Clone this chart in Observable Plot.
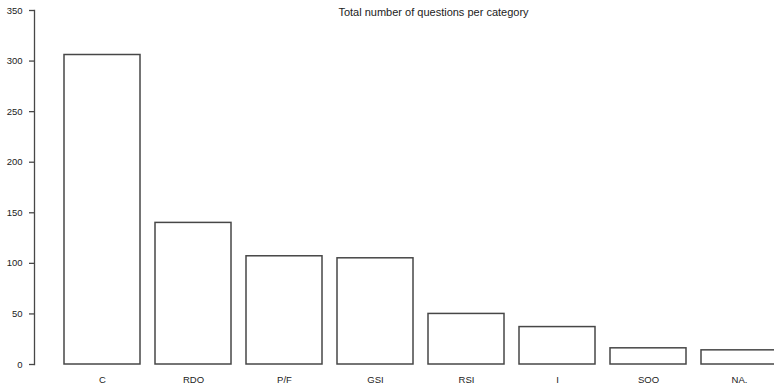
<!DOCTYPE html>
<html>
<head>
<meta charset="utf-8">
<script src="https://cdn.jsdelivr.net/npm/d3@7"></script>
<script src="https://cdn.jsdelivr.net/npm/@observablehq/plot@0.6"></script>
<style>
  html, body { margin: 0; padding: 0; background: #fff; overflow: hidden; }
  #wrap { position: relative; width: 774px; height: 390px; }
  #title { position: absolute; left: 0; width: 867px; top: 6px; text-align: center;
           font-family: "Liberation Sans", Arial, sans-serif; font-size: 11px; color: #222; line-height: 13px; }
</style>
</head>
<body>
<div id="wrap">
  <div id="chart"></div>
  <div id="title">Total number of questions per category</div>
</div>
<script>
const categories = ["C", "RDO", "P/F", "GSI", "RSI", "I", "SOO", "NA."];
const counts = [306, 140, 107, 105, 50, 37, 16, 14];
const yTicks = [0, 50, 100, 150, 200, 250, 300, 350];

const data = categories.map((c, i) => ({category: c, count: counts[i]}));

const chart = Plot.plot({
  width: 774,
  height: 390,
  marginTop: 10,
  marginBottom: 26,
  marginLeft: 34,
  marginRight: 0,
  style: {fontFamily: "'Liberation Sans', Arial, sans-serif", fontSize: "9.5px", color: "#222", background: "#fff"},
  x: {type: "band", domain: categories, range: [62, 779], paddingInner: 1/6, paddingOuter: 0},
  y: {domain: [0, 350], range: [364, 10]},
  marks: [
    Plot.barY(data, {x: "category", y: "count", fill: "white", stroke: "#474747", strokeWidth: 1.5}),
    Plot.frame({anchor: "left", stroke: "#474747", strokeWidth: 1.3}),
    Plot.axisY({ticks: yTicks, tickSize: 5, tickPadding: 7, stroke: "#474747", strokeWidth: 1.3, label: null, tickFormat: d => String(d)}),
    Plot.axisX({tickSize: 0, tickPadding: 12, label: null})
  ]
});
document.getElementById("chart").appendChild(chart);
</script>
</body>
</html>
